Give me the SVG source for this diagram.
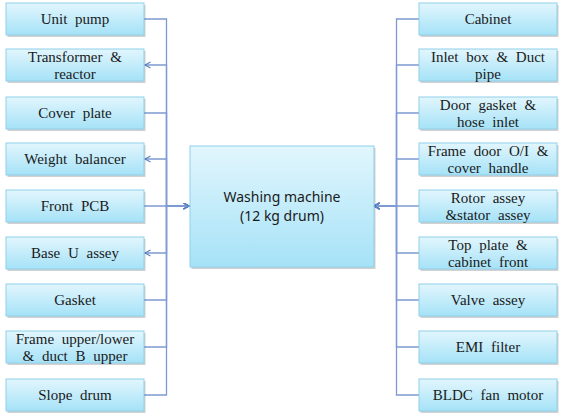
<svg xmlns="http://www.w3.org/2000/svg" width="567" height="416" viewBox="0 0 567 416">
<defs>
<linearGradient id="g" x1="0" y1="0" x2="0" y2="1">
<stop offset="0" stop-color="#e2f6fd"/>
<stop offset="1" stop-color="#a5e2f7"/>
</linearGradient>
<marker id="ah" markerWidth="8" markerHeight="8" refX="6" refY="3.5" orient="auto" markerUnits="userSpaceOnUse">
<path d="M0.5,0.5 L6,3.5 L0.5,6.5" fill="none" stroke="#5b80c4" stroke-width="1.1"/>
</marker>
</defs>
<style>
.box{fill:url(#g);stroke:#8fd0ea;stroke-width:1}
.sh{fill:#000;opacity:0.18}
.t{font-size:15px;fill:#1a1a1a;text-anchor:middle;word-spacing:4px}
.c{font-size:14px;fill:#1a1a1a;text-anchor:middle}
.ln{fill:none;stroke:#7d9bd2;stroke-width:1.3}
.ar{marker-end:url(#ah)}
</style>
<g id="connectors">
<path class="ln ar" d="M144,19 H166.5 V206 H189"/>
<path class="ln ar" d="M189,206 H166.5 V65 H145"/>
<path class="ln ar" d="M144,113 H166.5 V206 H189"/>
<path class="ln ar" d="M189,206 H166.5 V159 H145"/>
<path class="ln ar" d="M144,206 H189"/>
<path class="ln ar" d="M189,206 H166.5 V253 H145"/>
<path class="ln ar" d="M144,300 H166.5 V206 H189"/>
<path class="ln ar" d="M144,347 H166.5 V206 H189"/>
<path class="ln ar" d="M144,395 H166.5 V206 H189"/>
<path class="ln ar" d="M419,19 H396.5 V206 H374"/>
<path class="ln ar" d="M419,65 H396.5 V206 H374"/>
<path class="ln ar" d="M419,113 H396.5 V206 H374"/>
<path class="ln ar" d="M419,159 H396.5 V206 H374"/>
<path class="ln ar" d="M419,206 H374"/>
<path class="ln ar" d="M419,253 H396.5 V206 H374"/>
<path class="ln ar" d="M419,300 H396.5 V206 H374"/>
<path class="ln ar" d="M419,347 H396.5 V206 H374"/>
<path class="ln ar" d="M419,395 H396.5 V206 H374"/>
</g>
<g id="center" font-family="Noto Sans, Liberation Sans, sans-serif"><rect class="sh" x="191.5" y="148" width="184" height="121"/><rect class="box" x="190" y="146" width="184" height="121"/><text class="c" x="282" y="202">Washing machine</text><text class="c" x="282" y="221">(12 kg drum)</text></g>
<g font-family="Liberation Serif, DejaVu Serif, serif">
<g id="unit-pump"><rect class="sh" x="7.5" y="5" width="138" height="32"/><rect class="box" x="6" y="3" width="138" height="32"/><text class="t" x="75" y="24">Unit pump</text></g>
<g id="transformer"><rect class="sh" x="7.5" y="51" width="138" height="32"/><rect class="box" x="6" y="49" width="138" height="32"/><text class="t" x="75" y="62">Transformer &amp;</text><text class="t" x="75" y="79">reactor</text></g>
<g id="cover-plate"><rect class="sh" x="7.5" y="99" width="138" height="32"/><rect class="box" x="6" y="97" width="138" height="32"/><text class="t" x="75" y="118">Cover plate</text></g>
<g id="weight-balancer"><rect class="sh" x="7.5" y="145" width="138" height="32"/><rect class="box" x="6" y="143" width="138" height="32"/><text class="t" x="75" y="164">Weight balancer</text></g>
<g id="front-pcb"><rect class="sh" x="7.5" y="192" width="138" height="32"/><rect class="box" x="6" y="190" width="138" height="32"/><text class="t" x="75" y="211">Front PCB</text></g>
<g id="base-u"><rect class="sh" x="7.5" y="239" width="138" height="32"/><rect class="box" x="6" y="237" width="138" height="32"/><text class="t" x="75" y="258">Base U assey</text></g>
<g id="gasket"><rect class="sh" x="7.5" y="286" width="138" height="32"/><rect class="box" x="6" y="284" width="138" height="32"/><text class="t" x="75" y="305">Gasket</text></g>
<g id="frame-upper"><rect class="sh" x="7.5" y="333" width="138" height="32"/><rect class="box" x="6" y="331" width="138" height="32"/><text class="t" x="75" y="344">Frame upper/lower</text><text class="t" x="75" y="361">&amp; duct B upper</text></g>
<g id="slope-drum"><rect class="sh" x="7.5" y="381" width="138" height="32"/><rect class="box" x="6" y="379" width="138" height="32"/><text class="t" x="75" y="400">Slope drum</text></g>
<g id="cabinet"><rect class="sh" x="420.5" y="5" width="138" height="32"/><rect class="box" x="419" y="3" width="138" height="32"/><text class="t" x="488" y="24">Cabinet</text></g>
<g id="inlet-box"><rect class="sh" x="420.5" y="51" width="138" height="32"/><rect class="box" x="419" y="49" width="138" height="32"/><text class="t" x="488" y="62">Inlet box &amp; Duct</text><text class="t" x="488" y="79">pipe</text></g>
<g id="door-gasket"><rect class="sh" x="420.5" y="99" width="138" height="32"/><rect class="box" x="419" y="97" width="138" height="32"/><text class="t" x="488" y="110">Door gasket &amp;</text><text class="t" x="488" y="127">hose inlet</text></g>
<g id="frame-door"><rect class="sh" x="420.5" y="145" width="138" height="32"/><rect class="box" x="419" y="143" width="138" height="32"/><text class="t" x="488" y="156">Frame door O/I &amp;</text><text class="t" x="488" y="173">cover handle</text></g>
<g id="rotor"><rect class="sh" x="420.5" y="192" width="138" height="32"/><rect class="box" x="419" y="190" width="138" height="32"/><text class="t" x="488" y="203">Rotor assey</text><text class="t" x="488" y="220">&amp;stator assey</text></g>
<g id="top-plate"><rect class="sh" x="420.5" y="239" width="138" height="32"/><rect class="box" x="419" y="237" width="138" height="32"/><text class="t" x="488" y="250">Top plate &amp;</text><text class="t" x="488" y="267">cabinet front</text></g>
<g id="valve"><rect class="sh" x="420.5" y="286" width="138" height="32"/><rect class="box" x="419" y="284" width="138" height="32"/><text class="t" x="488" y="305">Valve assey</text></g>
<g id="emi"><rect class="sh" x="420.5" y="333" width="138" height="32"/><rect class="box" x="419" y="331" width="138" height="32"/><text class="t" x="488" y="352">EMI filter</text></g>
<g id="bldc"><rect class="sh" x="420.5" y="381" width="138" height="32"/><rect class="box" x="419" y="379" width="138" height="32"/><text class="t" x="488" y="400">BLDC fan motor</text></g>
</g>
</svg>
